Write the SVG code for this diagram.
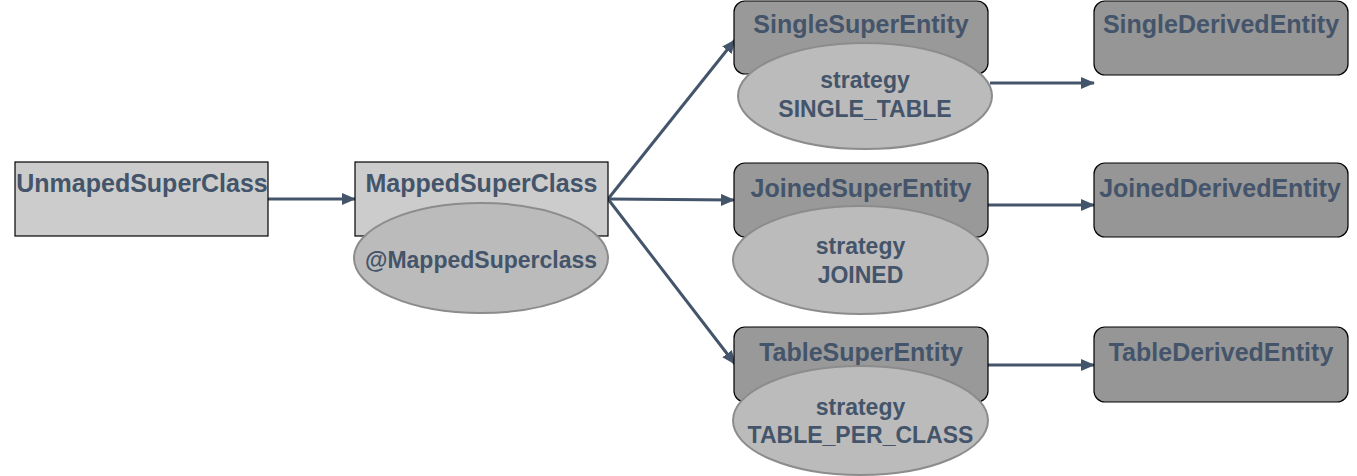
<svg xmlns="http://www.w3.org/2000/svg" width="1357" height="476" viewBox="0 0 1357 476">
  <defs>
    <style>
      .t { font-family: "Liberation Sans", Arial, sans-serif; font-weight: bold; fill: #44546a; text-anchor: middle; }
      .title { font-size: 25px; }
      .sub { font-size: 23px; }
      .light { fill: #cccccc; stroke: #000; stroke-width: 1.2; }
      .dark { fill: #999999; stroke: #000; stroke-width: 1.2; }
      .derived { fill: #969696; stroke: #000; stroke-width: 1.2; }
      .ell { fill: #bbbbbb; stroke: #8c8c8c; stroke-width: 2; }
      .conn { stroke: #44546a; stroke-width: 3; fill: none; marker-end: url(#arrow); }
    </style>
    <marker id="arrow" viewBox="0 0 14 12" refX="13" refY="6" markerWidth="14" markerHeight="12" markerUnits="userSpaceOnUse" orient="auto">
      <path d="M0,0 L14,6 L0,12 Z" fill="#44546a"/>
    </marker>
  </defs>

  <g id="connectors">
    <line class="conn" x1="268" y1="199" x2="355" y2="199"/>
    <line class="conn" x1="608" y1="199" x2="735" y2="40"/>
    <line class="conn" x1="608" y1="199" x2="734" y2="200"/>
    <line class="conn" x1="608" y1="199" x2="735" y2="364"/>
    <line class="conn" x1="990" y1="83" x2="1094" y2="83"/>
    <line class="conn" x1="988" y1="205" x2="1094" y2="205"/>
    <line class="conn" x1="988" y1="365" x2="1094" y2="365"/>
  </g>

  <g id="UnmapedSuperClass">
    <rect class="light" x="15" y="162" width="253" height="74"/>
    <text class="t title" x="142" y="192">UnmapedSuperClass</text>
  </g>

  <g id="MappedSuperClass">
    <rect class="light" x="355" y="162" width="253" height="74"/>
    <text class="t title" x="481.5" y="192">MappedSuperClass</text>
    <ellipse class="ell" cx="481" cy="258" rx="127" ry="55"/>
    <text class="t sub" x="481" y="268">@MappedSuperclass</text>
  </g>

  <g id="SingleSuperEntity">
    <rect class="dark" x="734" y="1" width="254" height="73" rx="11"/>
    <text class="t title" x="861" y="33">SingleSuperEntity</text>
    <ellipse class="ell" cx="865" cy="96" rx="127" ry="53"/>
    <text class="t sub" x="865" y="88">strategy</text>
    <text class="t sub" x="865" y="117">SINGLE_TABLE</text>
  </g>

  <g id="JoinedSuperEntity">
    <rect class="dark" x="734" y="163" width="254" height="74" rx="11"/>
    <text class="t title" x="861" y="197">JoinedSuperEntity</text>
    <ellipse class="ell" cx="860.5" cy="260" rx="127.5" ry="54"/>
    <text class="t sub" x="860.5" y="254">strategy</text>
    <text class="t sub" x="860.5" y="283">JOINED</text>
  </g>

  <g id="TableSuperEntity">
    <rect class="dark" x="734" y="327" width="254" height="75" rx="11"/>
    <text class="t title" x="861" y="361">TableSuperEntity</text>
    <ellipse class="ell" cx="860.5" cy="420.5" rx="127.5" ry="54.5"/>
    <text class="t sub" x="860.5" y="415">strategy</text>
    <text class="t sub" x="860.5" y="443">TABLE_PER_CLASS</text>
  </g>

  <g id="SingleDerivedEntity">
    <rect class="derived" x="1094" y="1" width="254" height="74" rx="11"/>
    <text class="t title" x="1221" y="33">SingleDerivedEntity</text>
  </g>

  <g id="JoinedDerivedEntity">
    <rect class="derived" x="1094" y="163" width="254" height="74" rx="11"/>
    <text class="t title" x="1220" y="197">JoinedDerivedEntity</text>
  </g>

  <g id="TableDerivedEntity">
    <rect class="derived" x="1094" y="327" width="254" height="75" rx="11"/>
    <text class="t title" x="1221" y="361">TableDerivedEntity</text>
  </g>
</svg>
